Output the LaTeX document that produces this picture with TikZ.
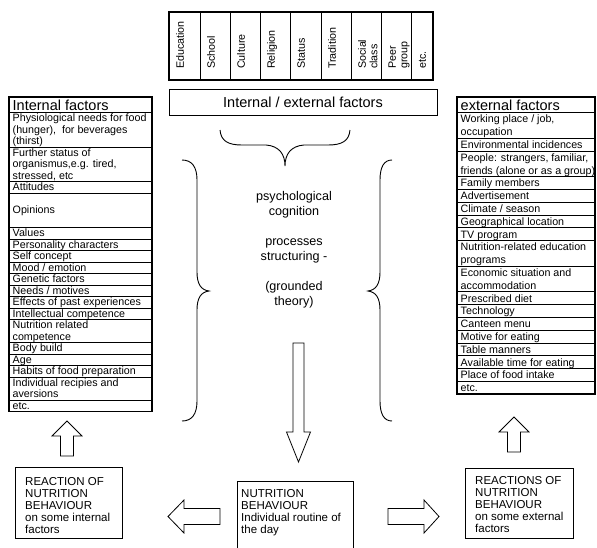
\documentclass[tikz,border=0pt]{standalone}
\usepackage{fontspec}
\setmainfont{Liberation Sans}
% strut that fills exactly one line of the current baselineskip
\newcommand\rowstrut{\vrule width 0pt height 0.8\baselineskip depth 0.2\baselineskip\relax}
% one row of the left list: name, row above, number of lines, text
\newcommand\leftrow[4]{%
  \node[cell, minimum width=143pt, minimum height=#3*11.5pt] (#1) at (#2.south west) {};
  \node[ltext] (#1t) at (#1.north west) {#4};}
% one row of the right list
\newcommand\rightrow[4]{%
  \node[cell, minimum width=138pt, minimum height=#3*12.8pt] (#1) at (#2.south west) {};
  \node[rtext] (#1t) at (#1.north west) {#4};}
\begin{document}
\begin{tikzpicture}[x=1pt, y=-1pt,
  cell/.style={draw, line width=0.7pt, outer sep=0pt, inner sep=0pt, anchor=north west},
  tabframe/.style={draw, line width=1.3pt},
  ltext/.style={anchor=north west, inner xsep=3.5pt, inner ysep=0pt, align=left,
    font=\fontsize{10.7pt}{11.5pt}\selectfont},
  rtext/.style={ltext, font=\fontsize{10.7pt}{12.8pt}\selectfont},
  headtext/.style={anchor=base west, inner sep=0pt, font=\fontsize{14.5pt}{16pt}\selectfont},
  coltext/.style={rotate=90, anchor=north west, inner sep=0pt, align=left,
    font=\fontsize{10.7pt}{11.5pt}\selectfont},
  blockarrow/.style={draw, line width=0.8pt, fill=white, line join=miter},
  brace/.style={draw, line width=0.9pt},
  plainbox/.style={draw, line width=0.8pt, outer sep=0pt, inner sep=0pt, anchor=north west},
  boxtext/.style={anchor=north west, inner sep=0pt, align=left,
    font=\fontsize{11.5pt}{12pt}\selectfont},
]
\fill[white] (0,0) rectangle (597,547);
\useasboundingbox (0,0) rectangle (597,547);

% ---- column headings along the top
\foreach \n/\x/\w/\t in {1/169/31/Education, 2/200/30/School, 3/230/30/Culture,
    4/260/30/Religion, 5/290/31/Status, 6/321/30/Tradition,
    7/351/30/Social\\class, 8/381/30/Peer\\group, 9/411/22/etc.}{
  \node[cell, minimum width=\w pt, minimum height=68pt] (top\n) at (\x,12) {};
  \node[coltext] (toplab\n) at (\x+5.5,69) {\rowstrut\t};
}
\draw[tabframe] (top1.north west) rectangle (top9.south east);

% ---- internal / external box and the brace below it
\node[plainbox, minimum width=268pt, minimum height=26pt,
  font=\fontsize{14.5pt}{16pt}\selectfont] (ie) at (169,89) {Internal / external factors};
\draw[brace] (220,130) .. controls (221,141) and (228,145) .. (242,145) -- (266,145)
  .. controls (279,146) and (285,154) .. (285,166)
  .. controls (285,154) and (291,146) .. (304,145) -- (328,145)
  .. controls (342,145) and (349,141) .. (350,130);

% ---- internal factors
\node[cell, minimum width=143pt, minimum height=15.5pt] (L0) at (9,97) {};
\node[headtext] (L0t) at (12.5,110.5) {Internal factors};
\leftrow{L1}{L0}{3}{\rowstrut Physiological needs for food\\(hunger), \ for beverages\\(thirst)}
\leftrow{L2}{L1}{3}{\rowstrut Further status of\\organismus,e.g. tired,\\stressed, etc}
\leftrow{L3}{L2}{1}{\rowstrut Attitudes}
\leftrow{L4}{L3}{3}{\rowstrut\\Opinions\\\rowstrut}
\leftrow{L5}{L4}{1}{\rowstrut Values}
\leftrow{L6}{L5}{1}{\rowstrut Personality characters}
\leftrow{L7}{L6}{1}{\rowstrut Self concept}
\leftrow{L8}{L7}{1}{\rowstrut Mood / emotion}
\leftrow{L9}{L8}{1}{\rowstrut Genetic factors}
\leftrow{L10}{L9}{1}{\rowstrut Needs / motives}
\leftrow{L11}{L10}{1}{\rowstrut Effects of past experiences}
\leftrow{L12}{L11}{1}{\rowstrut Intellectual competence}
\leftrow{L13}{L12}{2}{\rowstrut Nutrition related\\competence}
\leftrow{L14}{L13}{1}{\rowstrut Body build}
\leftrow{L15}{L14}{1}{\rowstrut Age}
\leftrow{L16}{L15}{1}{\rowstrut Habits of food preparation}
\leftrow{L17}{L16}{2}{\rowstrut Individual recipies and\\aversions}
\leftrow{L18}{L17}{1}{\rowstrut etc.}
\draw[tabframe] (L0.north west) rectangle (L18.south east);

% ---- external factors
\node[cell, minimum width=138pt, minimum height=15.5pt] (R0) at (457,97) {};
\node[headtext] (R0t) at (460.5,110.5) {external factors};
\rightrow{R1}{R0}{2}{\rowstrut Working place / job,\\occupation}
\rightrow{R2}{R1}{1}{\rowstrut Environmental incidences}
\rightrow{R3}{R2}{2}{\rowstrut People: strangers, familiar,\\friends (alone or as a group)}
\rightrow{R4}{R3}{1}{\rowstrut Family members}
\rightrow{R5}{R4}{1}{\rowstrut Advertisement}
\rightrow{R6}{R5}{1}{\rowstrut Climate / season}
\rightrow{R7}{R6}{1}{\rowstrut Geographical location}
\rightrow{R8}{R7}{1}{\rowstrut TV program}
\rightrow{R9}{R8}{2}{\rowstrut Nutrition-related education\\programs}
\rightrow{R10}{R9}{2}{\rowstrut Economic situation and\\accommodation}
\rightrow{R11}{R10}{1}{\rowstrut Prescribed diet}
\rightrow{R12}{R11}{1}{\rowstrut Technology}
\rightrow{R13}{R12}{1}{\rowstrut Canteen menu}
\rightrow{R14}{R13}{1}{\rowstrut Motive for eating}
\rightrow{R15}{R14}{1}{\rowstrut Table manners}
\rightrow{R16}{R15}{1}{\rowstrut Available time for eating}
\rightrow{R17}{R16}{1}{\rowstrut Place of food intake}
\rightrow{R18}{R17}{1}{\rowstrut etc.}
\draw[tabframe] (R0.north west) rectangle (R18.south east);

% ---- the two large braces round the cognition text
\draw[brace] (182,160) .. controls (192,160) and (197,167) .. (197,180) -- (197,272)
  .. controls (197,284) and (201,290) .. (209,291)
  .. controls (201,292) and (197,298) .. (197,310) -- (197,401)
  .. controls (197,414) and (192,421) .. (182,421);
\draw[brace] (392,160) .. controls (384,160) and (380,167) .. (380,180) -- (380,272)
  .. controls (380,284) and (376,290) .. (368,291)
  .. controls (376,292) and (380,298) .. (380,310) -- (380,401)
  .. controls (380,414) and (384,421) .. (392,421);

\node[anchor=north, inner sep=0pt, align=center, font=\fontsize{12.6pt}{15pt}\selectfont]
  (cog) at (294,188.3) {\rowstrut psychological\\cognition\\\rowstrut\\processes\\structuring -\\\rowstrut\\(grounded\\theory)};

% ---- block arrows
\draw[blockarrow] (293,343) -- (304,343) -- (304,432) -- (310.5,432) -- (298.5,462)
  -- (286.5,432) -- (293,432) -- cycle;
\draw[blockarrow] (67,421) -- (82,436) -- (73.5,436) -- (73.5,456) -- (60.5,456)
  -- (60.5,436) -- (52,436) -- cycle;
\draw[blockarrow] (514,417) -- (529,432) -- (520.5,432) -- (520.5,452) -- (507.5,452)
  -- (507.5,432) -- (499,432) -- cycle;
\draw[blockarrow] (168,516.5) -- (184,500) -- (184,508.5) -- (220,508.5) -- (220,524.5)
  -- (184,524.5) -- (184,533) -- cycle;
\draw[blockarrow] (439,516.5) -- (424,500) -- (424,508.5) -- (388,508.5) -- (388,524.5)
  -- (424,524.5) -- (424,533) -- cycle;

% ---- boxes along the bottom
\node[plainbox, minimum width=107pt, minimum height=71pt] (rin) at (15,467) {};
\node[boxtext] (rint) at (25,476) {\rowstrut REACTION OF\\NUTRITION\\BEHAVIOUR\\on some internal\\factors};
\node[plainbox, minimum width=116pt, minimum height=72pt] (nb) at (237,481) {};
\node[boxtext] (nbt) at (241,487.8) {\rowstrut NUTRITION\\BEHAVIOUR\\Individual routine of\\the day};
\node[plainbox, minimum width=108pt, minimum height=70pt] (rex) at (465,468) {};
\node[boxtext] (rext) at (475,474.4) {\rowstrut REACTIONS OF\\NUTRITION\\BEHAVIOUR\\on some external\\factors};
\end{tikzpicture}
\end{document}
